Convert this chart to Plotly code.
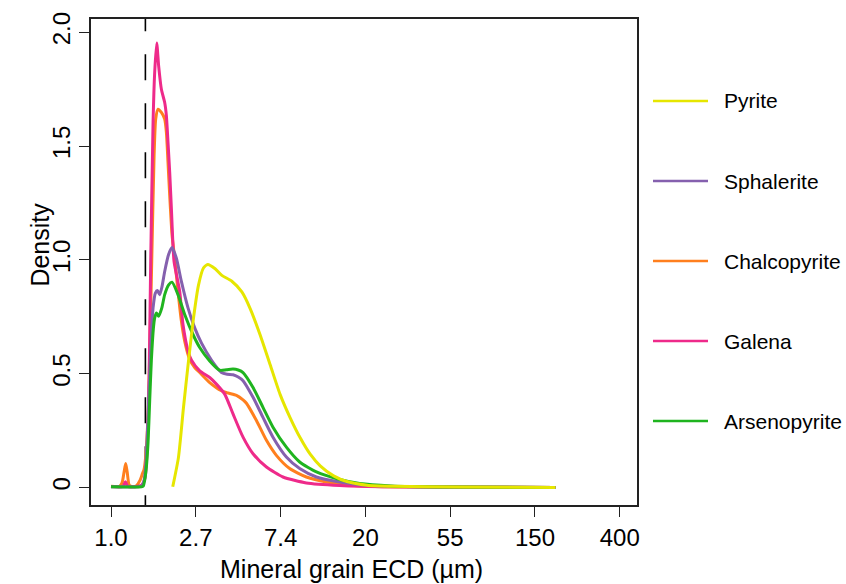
import numpy as np
import plotly.graph_objects as go

# ---------------- data (x = ln of grain ECD in µm, y = density) ----------------
pyrite_ln_ecd = [0.728, 0.795, 0.854, 0.913, 0.972, 1.031, 1.090, 1.141, 1.228, 1.307, 1.425, 1.543,
                 1.641, 1.759, 1.877, 1.995, 2.113, 2.231, 2.349, 2.467, 2.625, 2.782, 3.018, 3.333,
                 4.12, 5.24]
pyrite_density = [0.003, 0.131, 0.349, 0.553, 0.742, 0.888, 0.964, 0.980, 0.961, 0.932, 0.906, 0.859,
                  0.786, 0.670, 0.539, 0.408, 0.306, 0.218, 0.146, 0.095, 0.051, 0.026, 0.010, 0.005,
                  0.002, 0.000]

sphalerite_ln_ecd = [0.000, 0.20, 0.36, 0.39, 0.41, 0.43, 0.456, 0.48, 0.496, 0.523, 0.547, 0.574, 0.60,
                     0.633, 0.68, 0.72, 0.771, 0.83, 0.908, 0.987, 1.066, 1.184, 1.302, 1.37, 1.439,
                     1.50, 1.557, 1.675, 1.792, 1.910, 2.068, 2.225, 2.422, 2.697, 2.933, 3.3, 4.0, 5.24]
sphalerite_density = [0.003, 0.003, 0.005, 0.03, 0.10, 0.25, 0.498, 0.70, 0.789, 0.854, 0.865, 0.847,
                      0.88, 0.949, 1.025, 1.054, 1.007, 0.905, 0.789, 0.701, 0.635, 0.560, 0.505, 0.497,
                      0.495, 0.485, 0.469, 0.396, 0.308, 0.221, 0.134, 0.083, 0.046, 0.024, 0.012,
                      0.005, 0.002, 0.000]

chalcopyrite_ln_ecd = [0.000, 0.10, 0.13, 0.155, 0.173, 0.19, 0.215, 0.25, 0.30, 0.34, 0.37, 0.39, 0.41,
                       0.44, 0.46, 0.48, 0.508, 0.527, 0.554, 0.594, 0.633, 0.653, 0.672, 0.692, 0.720,
                       0.751, 0.790, 0.830, 0.869, 0.928, 0.987, 1.046, 1.164, 1.302, 1.38, 1.479, 1.557,
                       1.597, 1.715, 1.833, 1.950, 2.107, 2.304, 2.540, 2.9, 3.5, 5.24]
chalcopyrite_density = [0.005, 0.005, 0.02, 0.07, 0.105, 0.07, 0.01, 0.004, 0.008, 0.03, 0.06, 0.08,
                        0.14, 0.35, 0.65, 0.99, 1.458, 1.618, 1.662, 1.648, 1.618, 1.560, 1.429, 1.284,
                        1.109, 1.007, 0.862, 0.731, 0.643, 0.563, 0.527, 0.505, 0.461, 0.425, 0.415,
                        0.405, 0.385, 0.370, 0.294, 0.207, 0.141, 0.083, 0.046, 0.024, 0.008, 0.002,
                        0.000]

galena_ln_ecd = [0.000, 0.14, 0.17, 0.20, 0.30, 0.36, 0.40, 0.43, 0.45, 0.468, 0.496, 0.515, 0.539,
                 0.562, 0.594, 0.633, 0.653, 0.672, 0.692, 0.712, 0.743, 0.780, 0.810, 0.849, 0.908,
                 0.948, 1.046, 1.164, 1.243, 1.341, 1.439, 1.557, 1.675, 1.833, 2.028, 2.304, 2.697,
                 3.3, 5.24]
galena_density = [0.004, 0.004, 0.025, 0.004, 0.004, 0.01, 0.04, 0.20, 0.50, 0.993, 1.604, 1.823, 1.953,
                  1.851, 1.749, 1.691, 1.633, 1.517, 1.386, 1.225, 0.993, 0.920, 0.862, 0.716, 0.600,
                  0.560, 0.512, 0.483, 0.454, 0.410, 0.323, 0.221, 0.148, 0.090, 0.046, 0.020, 0.009,
                  0.003, 0.000]

arsenopyrite_ln_ecd = [0.000, 0.36, 0.38, 0.397, 0.417, 0.437, 0.456, 0.476, 0.50, 0.515, 0.535, 0.562,
                       0.60, 0.633, 0.68, 0.72, 0.79, 0.869, 0.967, 1.046, 1.164, 1.282, 1.36, 1.439,
                       1.50, 1.557, 1.675, 1.792, 1.910, 2.068, 2.225, 2.422, 2.697, 2.933, 3.3, 4.0,
                       5.24]
arsenopyrite_density = [0.003, 0.003, 0.006, 0.032, 0.09, 0.20, 0.38, 0.56, 0.70, 0.745, 0.767, 0.752,
                        0.79, 0.847, 0.89, 0.902, 0.847, 0.760, 0.672, 0.615, 0.556, 0.515, 0.517,
                        0.520, 0.516, 0.505, 0.439, 0.352, 0.265, 0.177, 0.112, 0.068, 0.035, 0.017,
                        0.007, 0.002, 0.000]

minerals = ["Pyrite", "Sphalerite", "Chalcopyrite", "Galena", "Arsenopyrite"]
x_tick_ln = [0, 1, 2, 3, 4, 5, 6]
x_tick_labels = ["1.0", "2.7", "7.4", "20", "55", "150", "400"]
y_tick_vals = [0, 0.5, 1.0, 1.5, 2.0]
y_tick_labels = ["0", "0.5", "1.0", "1.5", "2.0"]
size_limit_um = 1.5

# ---------------- styling ----------------
colors = {
    "Pyrite": "#E6E600",
    "Sphalerite": "#8560AE",
    "Chalcopyrite": "#FF7F1E",
    "Galena": "#EE2A8A",
    "Arsenopyrite": "#1FB41F",
}
series = {
    "Pyrite": (pyrite_ln_ecd, pyrite_density),
    "Sphalerite": (sphalerite_ln_ecd, sphalerite_density),
    "Chalcopyrite": (chalcopyrite_ln_ecd, chalcopyrite_density),
    "Galena": (galena_ln_ecd, galena_density),
    "Arsenopyrite": (arsenopyrite_ln_ecd, arsenopyrite_density),
}
draw_order = ["Chalcopyrite", "Galena", "Sphalerite", "Arsenopyrite", "Pyrite"]

FONT = "Liberation Sans, Arial, Helvetica, sans-serif"
W, H = 846, 584
PL, PR, PT, PB = 91, 637, 16, 505  # plot area in pixels

fig = go.Figure()

# detection-limit dashed line
fig.add_trace(go.Scatter(
    x=[np.log(size_limit_um)] * 2, y=[2.118, -0.3], mode="lines",
    line=dict(color="black", width=1.6, dash="26px,23px"),
    showlegend=False, hoverinfo="skip"))

for name in draw_order:
    xs, ys = series[name]
    fig.add_trace(go.Scatter(
        x=xs, y=ys, mode="lines", name=name,
        line=dict(color=colors[name], width=3, shape="spline", smoothing=0.6),
        showlegend=False))


def px_to_paper_x(px):
    return (px - PL) / (PR - PL)


def px_to_paper_y(py):
    return (PB - py) / (PB - PT)


# manual legend
legend_y_px = [98.5, 179, 259.5, 340, 420.5]
shapes = []
annotations = []
for name, ly in zip(minerals, legend_y_px):
    shapes.append(dict(type="line", xref="paper", yref="paper",
                       x0=px_to_paper_x(653), x1=px_to_paper_x(708),
                       y0=px_to_paper_y(ly), y1=px_to_paper_y(ly),
                       line=dict(color=colors[name], width=2.6)))
    annotations.append(dict(text=name, xref="paper", yref="paper",
                            x=px_to_paper_x(722), y=px_to_paper_y(ly),
                            xanchor="left", yanchor="middle", showarrow=False,
                            font=dict(family=FONT, size=21, color="black")))

# axis titles
annotations.append(dict(text="Mineral grain ECD (µm)", xref="paper", yref="paper",
                        x=px_to_paper_x(351), y=px_to_paper_y(569),
                        xanchor="center", yanchor="middle", showarrow=False,
                        font=dict(family=FONT, size=25, color="black")))
annotations.append(dict(text="Density", xref="paper", yref="paper",
                        x=px_to_paper_x(40), y=px_to_paper_y(243),
                        xanchor="center", yanchor="middle", showarrow=False, textangle=-90,
                        font=dict(family=FONT, size=25, color="black")))

fig.update_layout(
    width=W, height=H,
    margin=dict(l=PL, r=W - PR, t=PT, b=H - PB, pad=0),
    paper_bgcolor="white", plot_bgcolor="white",
    shapes=shapes, annotations=annotations,
    showlegend=False,
    font=dict(family=FONT, color="black"),
)
fig.update_xaxes(
    range=[-0.236, 6.203], tickvals=x_tick_ln, ticktext=x_tick_labels,
    ticks="outside", ticklen=10, tickwidth=1.3, tickcolor="#222",
    showline=True, mirror=True, linecolor="#222", linewidth=1.6,
    showgrid=False, zeroline=False, tickfont=dict(family=FONT, size=24, color="black"))
fig.update_yaxes(
    range=[-0.077, 2.058], tickvals=y_tick_vals, ticktext=y_tick_labels, tickangle=-90,
    ticks="outside", ticklen=10, tickwidth=1.3, tickcolor="#222",
    showline=True, mirror=True, linecolor="#222", linewidth=1.6,
    showgrid=False, zeroline=False, tickfont=dict(family=FONT, size=24, color="black"))

fig.write_html("out.html")
